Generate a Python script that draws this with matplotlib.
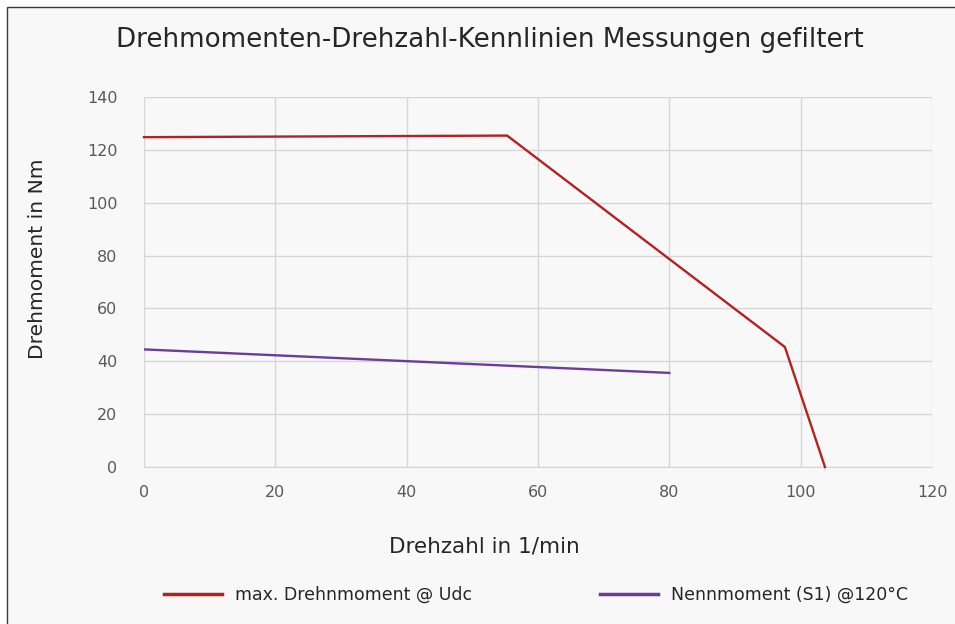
import matplotlib
matplotlib.use("Agg")
import matplotlib.pyplot as plt
from matplotlib.patches import Rectangle
from matplotlib.lines import Line2D

# Data
max_speed = [0, 55.3, 97.6, 103.7]
max_torque = [124.8, 125.4, 45.4, 0]
nenn_speed = [0, 80]
nenn_torque = [44.5, 35.6]
x_ticks = [0, 20, 40, 60, 80, 100, 120]
y_ticks = [0, 20, 40, 60, 80, 100, 120, 140]
title = "Drehmomenten-Drehzahl-Kennlinien Messungen gefiltert"
series_names = ["max. Drehnmoment @ Udc", "Nennmoment (S1) @120°C"]

W, H = 955, 624
bg = "#f8f8f8"
fig = plt.figure(figsize=(W / 100, H / 100), dpi=100, facecolor="white")
fig.patches.append(Rectangle((7 / W, -0.1), 1.1, (H - 7) / H + 0.1, transform=fig.transFigure,
                             facecolor=bg, edgecolor="#3a3a3a", linewidth=1.0, zorder=-10))

ax = fig.add_axes([144 / W, 1 - 467 / H, (932 - 144) / W, (467 - 97) / H])
ax.set_facecolor(bg)
red = "#b22222"
purple = "#6a3d9a"
ax.plot(max_speed, max_torque, color=red, lw=1.7, solid_joinstyle="miter", clip_on=False, zorder=3)
ax.plot(nenn_speed, nenn_torque, color=purple, lw=1.7, zorder=3)

ax.set_xlim(0, 120)
ax.set_ylim(0, 140)
ax.set_xticks(x_ticks)
ax.set_yticks(y_ticks)
ax.grid(True, color="#d6d6d6", lw=1.0)
ax.set_axisbelow(True)
for s in ["top", "right", "left"]:
    ax.spines[s].set_visible(False)
ax.spines["bottom"].set_color("#d6d6d6")
ax.tick_params(length=0, colors="#595959", labelsize=11.5)
ax.tick_params(axis="y", pad=19)
ax.tick_params(axis="x", pad=13)

fig.text(490 / W, 1 - 40 / H, title, ha="center", va="center", fontsize=18.8, color="#262626")
fig.text(38 / W, 1 - 259 / H, "Drehmoment in Nm", rotation=90, ha="center", va="center",
         fontsize=14.6, color="#262626")
fig.text(484 / W, 1 - 547 / H, "Drehzahl in 1/min", ha="center", va="center",
         fontsize=15.5, color="#262626")

handles = [Line2D([], [], color=red, lw=2.5), Line2D([], [], color=purple, lw=2.5)]
fig.legend(handles, series_names, loc="center", bbox_to_anchor=(536 / W, 1 - 595 / H),
           ncol=2, frameon=False, fontsize=12.5, handlelength=3.35, columnspacing=7.4,
           handletextpad=0.75, labelcolor="#262626")

fig.savefig("out.png", dpi=100, facecolor="white")
